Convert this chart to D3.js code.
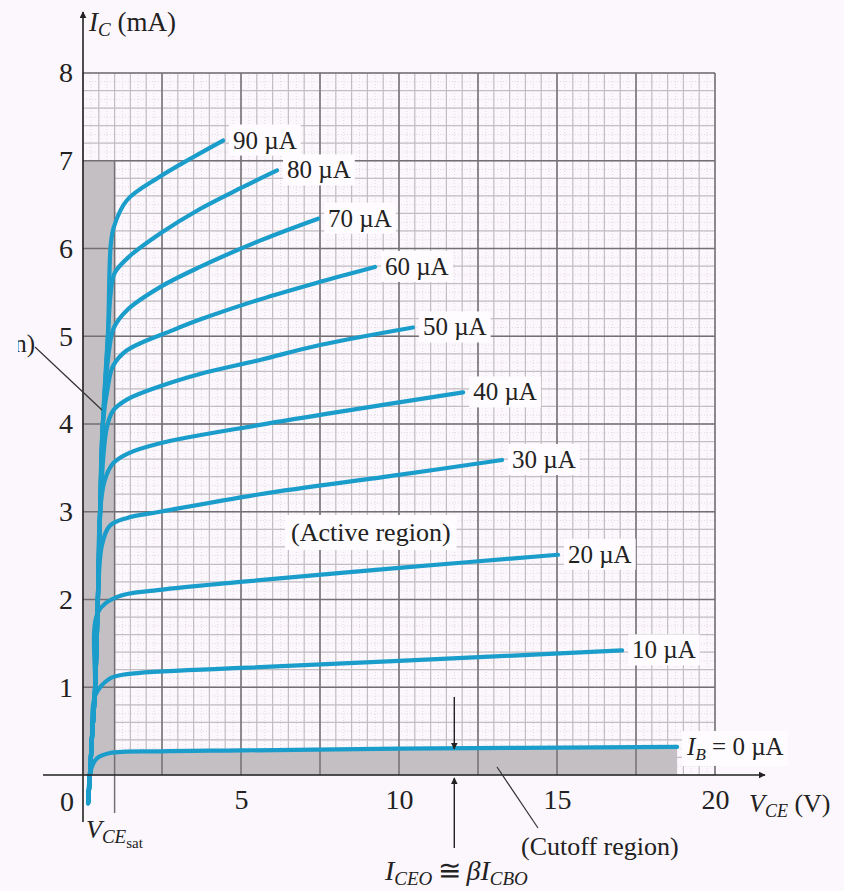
<!DOCTYPE html>
<html>
<head>
<meta charset="utf-8">
<script src="https://cdn.jsdelivr.net/npm/d3@7"></script>
<style>
  body { margin: 0; background: #fcf7fc; }
  text { font-family: "Liberation Serif", "Times New Roman", serif; fill: #222; }
</style>
</head>
<body>
<div id="chart"></div>
<script>
// tick labels
var xTicks = [5, 10, 15, 20];
var yTicks = [1, 2, 3, 4, 5, 6, 7, 8];

// shared rising part of every curve (VCE in V, IC in mA)
var stem = [[0.16, -0.32], [0.22, 0], [0.28, 0.40], [0.38, 0.97], [0.47, 1.99],
            [0.54, 2.99], [0.63, 4.01], [0.79, 5.02], [0.85, 6.02]];

// base current labels and the curve points after the knee
var ibLabels = ["0", "10", "20", "30", "40", "50", "60", "70", "80", "90"];
var ib0  = [[0.26, 0.07], [0.44, 0.19], [0.85, 0.25], [2.44, 0.27], [5, 0.28], [10, 0.30], [18.8, 0.32]];
var ib10 = [[0.38, 0.90], [0.85, 1.10], [1.4, 1.15], [5, 1.22], [10, 1.30], [17.06, 1.42]];
var ib20 = [[0.47, 1.85], [1.08, 2.03], [2.44, 2.11], [4.97, 2.20], [10, 2.36], [15.03, 2.51]];
var ib30 = [[0.6, 2.62], [0.85, 2.84], [1.4, 2.93], [2.44, 3.00], [5.6, 3.20], [10, 3.42], [13.26, 3.59]];
var ib40 = [[0.68, 3.35], [0.95, 3.55], [1.4, 3.66], [2.44, 3.78], [5.6, 3.99], [12.03, 4.36]];
var ib50 = [[0.75, 3.95], [0.95, 4.15], [1.4, 4.28], [2.44, 4.43], [3.7, 4.57], [5.6, 4.73], [7.5, 4.90], [10.44, 5.10]];
var ib60 = [[0.8, 4.45], [0.95, 4.66], [1.39, 4.84], [2.85, 5.07], [3.7, 5.19], [5.6, 5.42], [7.5, 5.62], [9.24, 5.79]];
var ib70 = [[0.85, 4.90], [0.98, 5.10], [1.4, 5.30], [2.44, 5.56], [3.7, 5.79], [5.6, 6.09], [7.44, 6.34]];
var ib80 = [[0.88, 5.50], [1.0, 5.72], [1.5, 5.92], [2.44, 6.17], [3.7, 6.45], [5.0, 6.69], [6.14, 6.89]];
var ib90 = [[0.88, 6.05], [0.98, 6.25], [1.39, 6.55], [2.44, 6.82], [3.48, 7.04], [4.43, 7.23]];
var curves = [ib0, ib10, ib20, ib30, ib40, ib50, ib60, ib70, ib80, ib90];

var vceSat = 1, satTop = 7;

var W = 844, H = 891;
var svg = d3.select("#chart").append("svg")
    .attr("width", W).attr("height", H);

var x = d3.scaleLinear().domain([0, 20]).range([83, 715]);
var y = d3.scaleLinear().domain([0, 8]).range([775, 73]);

var defs = svg.append("defs");
defs.append("marker").attr("id", "arr")
    .attr("viewBox", "0 0 10 10").attr("refX", 9).attr("refY", 5)
    .attr("markerWidth", 7).attr("markerHeight", 7).attr("orient", "auto-start-reverse")
    .attr("markerUnits", "userSpaceOnUse")
  .append("path").attr("d", "M0,0 L10,5 L0,10 z").attr("fill", "#222");
// the original figure is cropped on its left side
defs.append("clipPath").attr("id", "leftcrop")
  .append("rect").attr("x", 18).attr("y", 0).attr("width", W).attr("height", H);

// grid
function gridLines(step, cls, stroke, width, dash) {
  var g = svg.append("g").attr("class", cls);
  g.selectAll("line.v").data(d3.range(0, 20 + 1e-9, step)).enter().append("line")
      .attr("x1", function(d) { return x(d); }).attr("x2", function(d) { return x(d); })
      .attr("y1", y(0)).attr("y2", y(8));
  g.selectAll("line.h").data(d3.range(0, 8 + 1e-9, step / 2.5)).enter().append("line")
      .attr("x1", x(0)).attr("x2", x(20))
      .attr("y1", function(d) { return y(d); }).attr("y2", function(d) { return y(d); });
  g.selectAll("line").attr("stroke", stroke).attr("stroke-width", width)
      .attr("stroke-dasharray", dash || null);
  return g;
}
gridLines(0.25, "faint", "#e2dbe2", 1, "1,2");
gridLines(0.5, "minor", "#c2bec2", 1.2);

// shaded regions
svg.append("rect")
    .attr("x", x(0)).attr("y", y(satTop))
    .attr("width", x(vceSat) - x(0)).attr("height", y(0) - y(satTop))
    .attr("fill", "#c3bfc3");
svg.append("path")
    .datum([[0, 0]].concat(ib0.filter(function(d) { return d[1] >= 0; })))
    .attr("fill", "#c3bfc3")
    .attr("d", d3.area()
      .x(function(d) { return x(d[0]); })
      .y0(y(0))
      .y1(function(d) { return y(d[1]); })
      .curve(d3.curveMonotoneX));

// major grid
var major = svg.append("g");
major.selectAll("line.v").data(d3.range(2.5, 20.1, 2.5)).enter().append("line")
    .attr("x1", function(d) { return x(d); }).attr("x2", function(d) { return x(d); })
    .attr("y1", y(0)).attr("y2", y(8));
major.selectAll("line.h").data(yTicks).enter().append("line")
    .attr("x1", x(0)).attr("x2", x(20))
    .attr("y1", function(d) { return y(d); }).attr("y2", function(d) { return y(d); });
major.append("line")
    .attr("x1", x(vceSat)).attr("x2", x(vceSat)).attr("y1", y(satTop)).attr("y2", 813);
major.selectAll("line").attr("stroke", "#737073").attr("stroke-width", 1.5);

// curves
var line = d3.line()
    .x(function(d) { return x(d[0]); })
    .y(function(d) { return y(d[1]); })
    .curve(d3.curveCatmullRom.alpha(0.5));

curves.forEach(function(c) {
  var pts = stem.filter(function(s) { return s[1] < c[0][1] - 0.2; }).concat(c);
  svg.append("path")
      .datum(pts)
      .attr("fill", "none")
      .attr("stroke", "#1a9dca")
      .attr("stroke-width", 4.2)
      .attr("stroke-linecap", "round")
      .attr("d", line);
});

// axes
svg.append("line").attr("x1", x(0)).attr("x2", x(0)).attr("y1", 822).attr("y2", 12)
    .attr("stroke", "#222").attr("stroke-width", 1.6).attr("marker-end", "url(#arr)");
svg.append("line").attr("x1", 43).attr("x2", 765).attr("y1", y(0)).attr("y2", y(0))
    .attr("stroke", "#222").attr("stroke-width", 1.6).attr("marker-end", "url(#arr)");

var yAxis = svg.append("g").attr("transform", "translate(" + x(0) + ",0)")
    .call(d3.axisLeft(y).tickValues(yTicks).tickSize(0).tickPadding(10));
var xAxis = svg.append("g").attr("transform", "translate(0," + y(0) + ")")
    .call(d3.axisBottom(x).tickValues(xTicks).tickSize(0).tickPadding(14));
[yAxis, xAxis].forEach(function(a) {
  a.select(".domain").remove();
  a.selectAll("text").attr("font-family", "Liberation Serif").attr("font-size", 28).attr("fill", "#222");
});
svg.append("text").attr("x", 74).attr("y", 811).attr("text-anchor", "end")
    .attr("font-size", 28).text("0");

// white boxes behind labels
function boxed(t, pad) {
  var b = t.node().getBBox();
  svg.insert("rect", function() { return t.node(); })
      .attr("x", b.x - pad).attr("y", b.y - pad / 2)
      .attr("width", b.width + 2 * pad).attr("height", b.height + pad)
      .attr("fill", "#fefcfe");
}

// curve labels
curves.forEach(function(c, i) {
  var end = c[c.length - 1];
  var t = svg.append("text")
      .attr("x", x(end[0]) + 10).attr("y", y(end[1]) + 8)
      .attr("font-size", 25);
  if (i === 0) {
    t.append("tspan").attr("font-style", "italic").text("I");
    t.append("tspan").attr("font-style", "italic").attr("font-size", 17).attr("dy", 5).text("B");
    t.append("tspan").attr("dy", -5).text(" = " + ibLabels[i] + " \u00b5A");
  } else {
    t.text(ibLabels[i] + " \u00b5A");
  }
  boxed(t, 4);
});

var active = svg.append("text").attr("x", 291).attr("y", 541).attr("font-size", 26)
    .text("(Active region)");
boxed(active, 6);

// axis titles
var ic = svg.append("text").attr("x", 89).attr("y", 31).attr("font-size", 27);
ic.append("tspan").attr("font-style", "italic").text("I");
ic.append("tspan").attr("font-style", "italic").attr("font-size", 19).attr("dy", 5).text("C");
ic.append("tspan").attr("dy", -5).text(" (mA)");

var vce = svg.append("text").attr("x", 749).attr("y", 812).attr("font-size", 26);
vce.append("tspan").attr("font-style", "italic").text("V");
vce.append("tspan").attr("font-style", "italic").attr("font-size", 18).attr("dy", 5).text("CE");
vce.append("tspan").attr("dy", -5).text(" (V)");

var sat = svg.append("text").attr("x", 86).attr("y", 838).attr("font-size", 26);
sat.append("tspan").attr("font-style", "italic").text("V");
sat.append("tspan").attr("font-style", "italic").attr("font-size", 19).attr("dy", 5).text("CE");
sat.append("tspan").attr("font-size", 15).attr("dy", 5).text("sat");

// saturation region note (the figure is cropped through it)
svg.append("text").attr("x", 35).attr("y", 352).attr("text-anchor", "end")
    .attr("clip-path", "url(#leftcrop)")
    .attr("font-size", 25).text("(Saturation region)");
svg.append("line").attr("x1", 35).attr("y1", 347).attr("x2", 102).attr("y2", 410)
    .attr("stroke", "#333").attr("stroke-width", 1.2);

// cutoff region note
svg.append("text").attr("x", 521).attr("y", 855).attr("font-size", 26).text("(Cutoff region)");
svg.append("line").attr("x1", 497).attr("y1", 767).attr("x2", 538).attr("y2", 828)
    .attr("stroke", "#333").attr("stroke-width", 1.2);

// ICEO arrows
var xa = x(11.75);
svg.append("line").attr("x1", xa).attr("x2", xa).attr("y1", 697).attr("y2", y(0.32) + 2)
    .attr("stroke", "#222").attr("stroke-width", 1.4).attr("marker-end", "url(#arr)");
svg.append("line").attr("x1", xa).attr("x2", xa).attr("y1", 848).attr("y2", y(0) + 3)
    .attr("stroke", "#222").attr("stroke-width", 1.4).attr("marker-end", "url(#arr)");

var iceo = svg.append("text").attr("x", 385).attr("y", 880).attr("font-size", 28);
iceo.append("tspan").attr("font-style", "italic").text("I");
iceo.append("tspan").attr("font-style", "italic").attr("font-size", 19).attr("dy", 5).text("CEO");
iceo.append("tspan").attr("dy", -5).text("\u2009\u2245\u2009");
iceo.append("tspan").attr("font-style", "italic").text("\u03b2I");
iceo.append("tspan").attr("font-style", "italic").attr("font-size", 19).attr("dy", 5).text("CBO");
</script>
</body>
</html>
